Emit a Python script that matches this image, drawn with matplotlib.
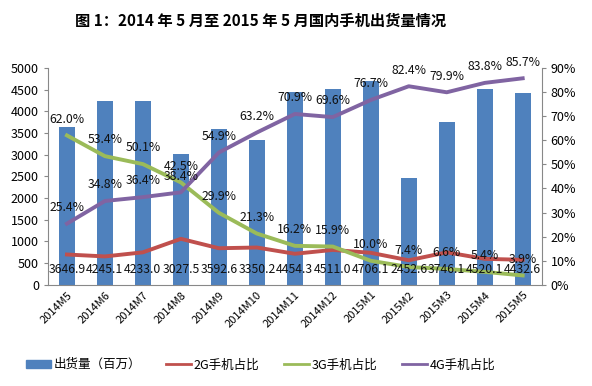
import matplotlib
matplotlib.use("Agg")
from matplotlib import pyplot as plt
from matplotlib.patches import Patch
from matplotlib.lines import Line2D

plt.rcParams['font.family'] = ['Noto Sans CJK SC', 'DejaVu Sans']

months = ["2014M5", "2014M6", "2014M7", "2014M8", "2014M9", "2014M10", "2014M11",
          "2014M12", "2015M1", "2015M2", "2015M3", "2015M4", "2015M5"]
shipments = [3646.9, 4245.1, 4233.0, 3027.5, 3592.6, 3350.2, 4454.3,
             4511.0, 4706.1, 2452.6, 3746.1, 4520.1, 4432.6]
share_4g = [25.4, 34.8, 36.4, 38.4, 54.9, 63.2, 70.9, 69.6, 76.7, 82.4, 79.9, 83.8, 85.7]
share_3g = [62.0, 53.4, 50.1, 42.5, 29.9, 21.3, 16.2, 15.9, 10.0, 7.4, 6.6, 5.4, 3.9]
share_2g = [12.6, 11.8, 13.5, 19.1, 15.2, 15.5, 12.9, 14.5, 13.3, 10.2, 13.5, 10.8, 10.4]

BLUE = "#4F81BD"
RED = "#C0504D"
GREEN = "#9BBB59"
PURPLE = "#8064A2"

fig = plt.figure(figsize=(5.92, 3.86), dpi=100)
ax = fig.add_axes([0.081, 0.262, 0.834, 0.562])
ax2 = ax.twinx()

x = list(range(len(months)))
ax.bar(x, shipments, width=0.42, color=BLUE, zorder=2)
ax.set_xlim(-0.5, len(months) - 0.5)
ax.set_ylim(0, 5000)
ax.set_yticks(range(0, 5001, 500))
ax.set_xticks(x)
ax.set_xticklabels(months, rotation=45, ha="right", rotation_mode="anchor", fontsize=8)

ax2.plot(x, share_2g, color=RED, lw=2.8, solid_joinstyle="round", zorder=3)
ax2.plot(x, share_3g, color=GREEN, lw=2.8, solid_joinstyle="round", zorder=3)
ax2.plot(x, share_4g, color=PURPLE, lw=2.8, solid_joinstyle="round", zorder=3)
ax2.set_ylim(0, 90)
ax2.set_yticks(range(0, 91, 10))
ax2.set_yticklabels(["%d%%" % t for t in range(0, 91, 10)])

# bar value labels near the base (drawn on top of the lines)
for xi, v in zip(x, shipments):
    ax2.text(xi, 6.3, "%.1f" % v, ha="center", va="center", fontsize=8.8,
             color="#111111", zorder=5)

for xi, v in zip(x, share_4g):
    ax2.annotate("%.1f%%" % v, (xi, v), xytext=(0, 7), textcoords="offset points",
                 ha="center", va="bottom", fontsize=8.8, color="#111111")
for xi, v in zip(x, share_3g):
    ax2.annotate("%.1f%%" % v, (xi, v), xytext=(0, 7), textcoords="offset points",
                 ha="center", va="bottom", fontsize=8.8, color="#111111")

for a in (ax, ax2):
    a.spines["top"].set_visible(False)
    for s in ("left", "right", "bottom"):
        a.spines[s].set_color("#888888")
    a.tick_params(axis="y", labelsize=9, length=3, color="#888888")
    a.tick_params(axis="x", length=0)
ax.spines["right"].set_visible(False)
ax2.spines["left"].set_visible(False)
ax2.spines["bottom"].set_visible(False)

fig.text(0.44, 0.945, "图 1：2014 年 5 月至 2015 年 5 月国内手机出货量情况",
         ha="center", va="center", fontsize=11, fontweight="bold")

handles = [Patch(color=BLUE), Line2D([], [], color=RED, lw=2),
           Line2D([], [], color=GREEN, lw=2), Line2D([], [], color=PURPLE, lw=2)]
labels = ["出货量（百万）", "2G手机占比", "3G手机占比", "4G手机占比"]
fig.legend(handles, labels, loc="center", bbox_to_anchor=(0.44, 0.055), ncol=4,
           frameon=False, fontsize=9, handlelength=2.0, handletextpad=0.2,
           columnspacing=2.0)

fig.savefig("out.png", dpi=100)
